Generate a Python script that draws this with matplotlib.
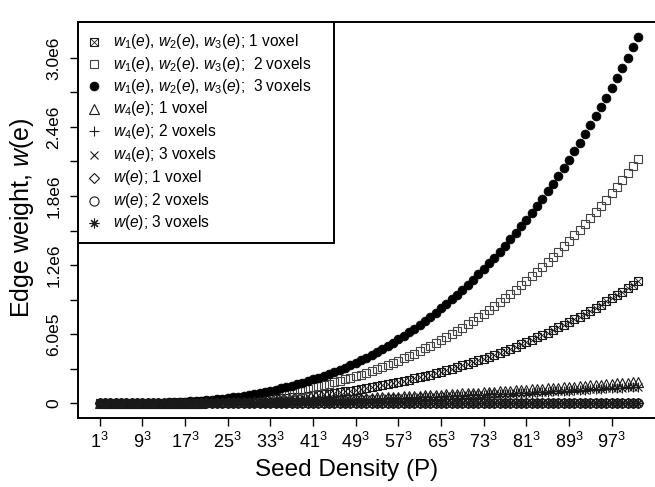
import matplotlib
matplotlib.use("Agg")
import matplotlib.pyplot as plt
from matplotlib.lines import Line2D
from matplotlib.patches import Rectangle
import numpy as np

plt.rcParams['font.family'] = ['Liberation Sans', 'DejaVu Sans']
plt.rcParams['mathtext.fontset'] = 'custom'
plt.rcParams['mathtext.rm'] = 'Liberation Sans'
plt.rcParams['mathtext.it'] = 'Liberation Sans:italic'
plt.rcParams['mathtext.bf'] = 'Liberation Sans:bold'

# ---------------- data (values in thousands) ----------------
seed = list(range(1, 103))

w123_1vox_k = [0, 0, 0, 0, 0, 0, 0, 1, 1, 1, 1, 2, 2, 3, 3, 4, 5, 6, 7, 8,
               9, 11, 12, 14, 16, 18, 20, 22, 24, 27, 30, 33, 36, 39, 43, 47, 51, 55, 59, 64,
               69, 74, 80, 85, 91, 97, 104, 111, 118, 125, 133, 141, 149, 157, 166, 176, 185, 195, 205, 216,
               227, 238, 250, 262, 275, 287, 301, 314, 329, 343, 358, 373, 389, 405, 422, 439, 457, 475, 493, 512,
               531, 551, 572, 593, 614, 636, 659, 681, 705, 729, 754, 779, 804, 831, 857, 885, 913, 941, 970, 1000,
               1030, 1061]
w123_2vox_k = [0, 0, 0, 0, 0, 0, 1, 1, 1, 2, 3, 3, 4, 5, 7, 8, 10, 12, 14, 16,
               19, 21, 24, 28, 31, 35, 39, 44, 49, 54, 60, 66, 72, 79, 86, 93, 101, 110, 119, 128,
               138, 148, 159, 170, 182, 195, 208, 221, 235, 250, 265, 281, 298, 315, 333, 351, 370, 390, 411, 432,
               454, 477, 500, 524, 549, 575, 602, 629, 657, 686, 716, 746, 778, 810, 844, 878, 913, 949, 986, 1024,
               1063, 1103, 1144, 1185, 1228, 1272, 1317, 1363, 1410, 1458, 1507, 1557, 1609, 1661, 1715, 1769, 1825, 1882, 1941, 2000,
               2061, 2122]
w123_3vox_k = [0, 0, 0, 0, 0, 1, 1, 2, 2, 3, 4, 5, 7, 8, 10, 12, 15, 17, 21, 24,
               28, 32, 37, 41, 47, 53, 59, 66, 73, 81, 89, 98, 108, 118, 129, 140, 152, 165, 178, 192,
               207, 222, 239, 256, 273, 292, 311, 332, 353, 375, 398, 422, 447, 472, 499, 527, 556, 585, 616, 648,
               681, 715, 750, 786, 824, 862, 902, 943, 986, 1029, 1074, 1120, 1167, 1216, 1266, 1317, 1370, 1424, 1479, 1536,
               1594, 1654, 1715, 1778, 1842, 1908, 1976, 2044, 2115, 2187, 2261, 2336, 2413, 2492, 2572, 2654, 2738, 2824, 2911, 3000,
               3091, 3184]
w4_1vox_k = [0, 0, 0, 0, 0, 1, 1, 1, 1, 2, 2, 3, 3, 4, 4, 5, 5, 6, 7, 7,
             8, 9, 10, 10, 11, 12, 13, 14, 15, 16, 17, 18, 20, 21, 22, 23, 25, 26, 27, 29,
             30, 32, 33, 35, 36, 38, 40, 41, 43, 45, 47, 49, 51, 52, 54, 56, 58, 61, 63, 65,
             67, 69, 71, 74, 76, 78, 81, 83, 86, 88, 91, 93, 96, 99, 101, 104, 107, 110, 112, 115,
             118, 121, 124, 127, 130, 133, 136, 139, 143, 146, 149, 152, 156, 159, 162, 166, 169, 173, 176, 180,
             184, 187]
w4_2vox_k = [0, 0, 0, 0, 0, 1, 1, 1, 1, 1, 2, 2, 2, 3, 3, 4, 4, 5, 5, 6,
             6, 7, 7, 8, 9, 9, 10, 11, 12, 13, 13, 14, 15, 16, 17, 18, 19, 20, 21, 22,
             24, 25, 26, 27, 28, 30, 31, 32, 34, 35, 36, 38, 39, 41, 42, 44, 45, 47, 49, 50,
             52, 54, 56, 57, 59, 61, 63, 65, 67, 69, 71, 73, 75, 77, 79, 81, 83, 85, 87, 90,
             92, 94, 96, 99, 101, 104, 106, 108, 111, 113, 116, 118, 121, 124, 126, 129, 132, 134, 137, 140,
             143, 146]
w4_3vox_k = w4_2vox_k
w_1vox_k = [0] * 102
w_2vox_k = [0] * 102
w_3vox_k = [0] * 102

xtick_vals = [1, 9, 17, 25, 33, 41, 49, 57, 65, 73, 81, 89, 97]
ytick_vals = [0, 3e5, 6e5, 9e5, 1.2e6, 1.5e6, 1.8e6, 2.1e6, 2.4e6, 2.7e6, 3.0e6]
ytick_text = ["0", "", "6.0e5", "", "1.2e6", "", "1.8e6", "", "2.4e6", "", "3.0e6"]

legend_labels = [
    r"$w_1(e)$, $w_2(e)$, $w_3(e)$; 1 voxel",
    r"$w_1(e)$, $w_2(e)$. $w_3(e)$;  2 voxels",
    r"$w_1(e)$, $w_2(e)$, $w_3(e)$;  3 voxels",
    r"$w_4(e)$; 1 voxel",
    r"$w_4(e)$; 2 voxels",
    r"$w_4(e)$; 3 voxels",
    r"$w(e)$; 1 voxel",
    r"$w(e)$; 2 voxels",
    r"$w(e)$; 3 voxels",
]

# ---------------- figure ----------------
W, H = 655, 487
fig = plt.figure(figsize=(W / 100, H / 100), dpi=100)
ax_l, ax_r, ax_t, ax_b = 78, 660, 22, 418
ax = fig.add_axes([ax_l / W, (H - ax_b) / H, (ax_r - ax_l) / W, (ax_b - ax_t) / H])

x = np.array(seed)
ymax = max(w123_3vox_k) * 1e3
xr = x.max() - x.min()
ax.set_xlim(x.min() - 0.04 * xr, x.max() + 0.04 * xr)
ax.set_ylim(-0.04 * ymax, ymax * 1.04)

ec = '#1a1a1a'
mew = 0.8
styles = [
    dict(marker='s', ms=6.0, mfc='none', mec=ec, mew=mew),      # box (x drawn separately)
    dict(marker='s', ms=6.0, mfc='none', mec='#444444', mew=mew),
    dict(marker='o', ms=6.4, mfc='black', mec='black', mew=0.5),
    dict(marker='^', ms=7.0, mfc='none', mec=ec, mew=mew),
    dict(marker='+', ms=7.6, mfc='none', mec=ec, mew=mew),
    dict(marker='x', ms=5.8, mfc='none', mec=ec, mew=mew),
    dict(marker='D', ms=5.6, mfc='none', mec=ec, mew=mew),
    dict(marker='o', ms=6.6, mfc='none', mec=ec, mew=mew),
    dict(marker=(8, 2, 0), ms=7.0, mfc='none', mec=ec, mew=mew),
]
series = [w123_1vox_k, w123_2vox_k, w123_3vox_k, w4_1vox_k, w4_2vox_k,
          w4_3vox_k, w_1vox_k, w_2vox_k, w_3vox_k]

for i, (vals, st) in enumerate(zip(series, styles)):
    y = np.array(vals, dtype=float) * 1e3
    ax.plot(x, y, linestyle='none', clip_on=False, **st)
    if i == 0:
        ax.plot(x, y, linestyle='none', marker='x', ms=5.6, mec=ec, mew=0.6)

for s in ['top', 'left', 'bottom']:
    ax.spines[s].set_linewidth(1.4)
    ax.spines[s].set_color('black')
ax.spines['right'].set_visible(False)

ax.set_xticks(xtick_vals)
ax.set_xticklabels([r"$%d^3$" % v for v in xtick_vals])
ax.set_yticks(ytick_vals)
ax.set_yticklabels(ytick_text, rotation=90, va='center')
ax.tick_params(axis='both', direction='out', length=6, width=1.0, color='black')
ax.tick_params(axis='x', pad=4, labelsize=13)
ax.tick_params(axis='y', pad=6, labelsize=12.5)

fig.text(22 / W, 1 - 218 / H, r"Edge weight, $w$(e)", rotation=90, ha='center', va='center', fontsize=18)
fig.text(347 / W, 1 - 470 / H, "Seed Density (P)", ha='center', va='center', fontsize=17.5)

# ---------------- legend (drawn manually in pixel coords) ----------------
def fx(px):
    return px / W

def fy(py):
    return 1 - py / H

fig.add_artist(Rectangle((fx(ax_l), fy(243)), fx(334) - fx(ax_l), fy(ax_t) - fy(243),
                         transform=fig.transFigure, fill=True, facecolor='white',
                         edgecolor='black', linewidth=1.4, zorder=5))
row_y = [41.5, 64, 86.5, 109, 131.5, 154.5, 177.5, 200.5, 223]
for i, (lab, st) in enumerate(zip(legend_labels, styles)):
    yy = row_y[i]
    fig.add_artist(Line2D([fx(94)], [fy(yy)], transform=fig.transFigure, linestyle='none',
                          zorder=6, **st))
    if i == 0:
        fig.add_artist(Line2D([fx(94)], [fy(yy)], transform=fig.transFigure, linestyle='none',
                              marker='x', ms=5.6, mec=ec, mew=0.6, zorder=6))
    fig.text(fx(113), fy(yy), lab, ha='left', va='center', fontsize=11.2, zorder=7)

fig.savefig("out.png", dpi=100)
